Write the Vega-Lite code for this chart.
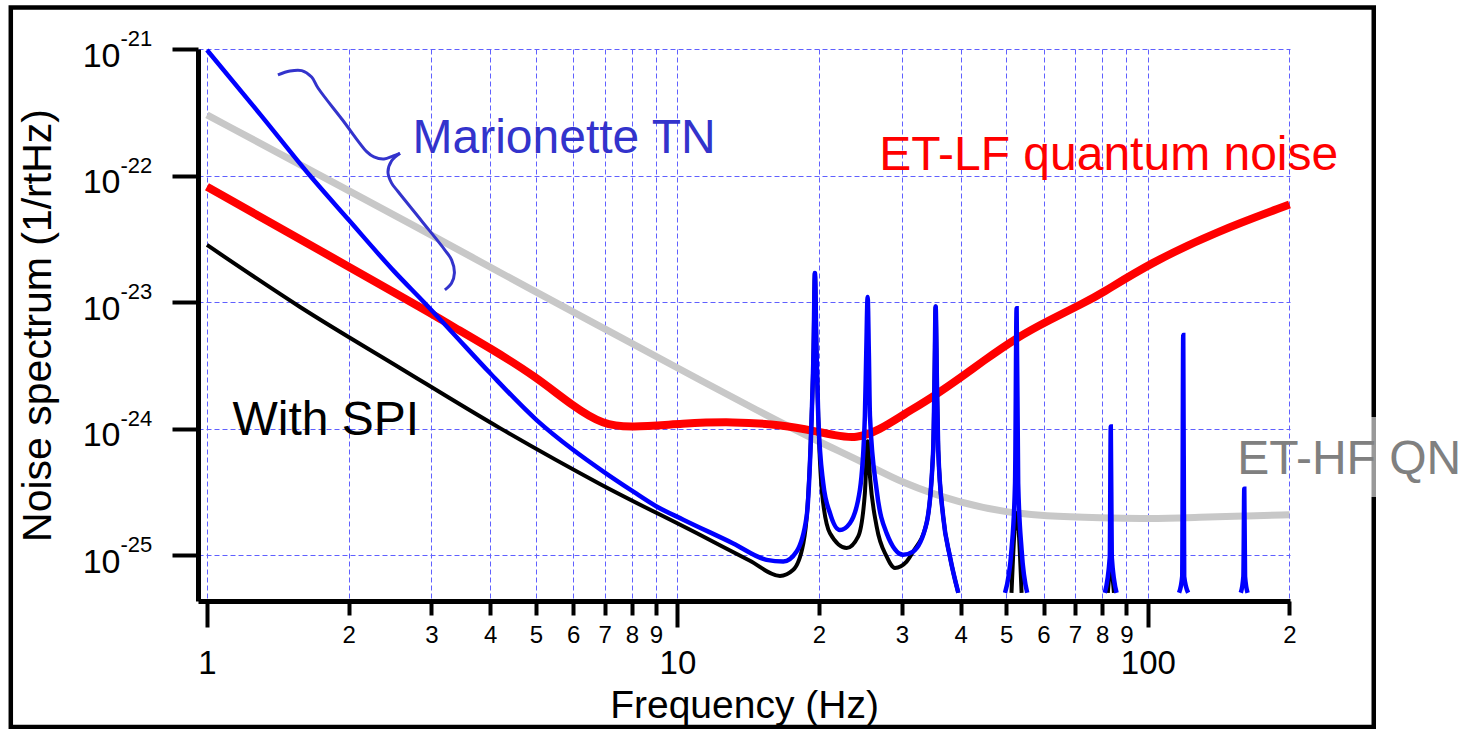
{
  "$schema": "https://vega.github.io/schema/vega-lite/v6.json",
  "width": 1092,
  "height": 552,
  "autosize": {"type": "none"},
  "padding": {"left": 198, "top": 49, "right": 180, "bottom": 128},
  "background": "white",
  "config": {"view": {"stroke": null}, "font": "Liberation Sans"},
  "datasets": {
    "curves": [
      {"series": "ET-HF QN", "seg": 0, "f": 1, "h": 3.02e-22},
      {"series": "ET-HF QN", "seg": 0, "f": 2, "h": 7.59e-23},
      {"series": "ET-HF QN", "seg": 0, "f": 3, "h": 3.39e-23},
      {"series": "ET-HF QN", "seg": 0, "f": 5, "h": 1.20e-23},
      {"series": "ET-HF QN", "seg": 0, "f": 7, "h": 6.17e-24},
      {"series": "ET-HF QN", "seg": 0, "f": 10, "h": 3.02e-24},
      {"series": "ET-HF QN", "seg": 0, "f": 15, "h": 1.35e-24},
      {"series": "ET-HF QN", "seg": 0, "f": 20, "h": 7.85e-25},
      {"series": "ET-HF QN", "seg": 0, "f": 25, "h": 5.37e-25},
      {"series": "ET-HF QN", "seg": 0, "f": 30, "h": 3.72e-25},
      {"series": "ET-HF QN", "seg": 0, "f": 40, "h": 2.57e-25},
      {"series": "ET-HF QN", "seg": 0, "f": 50, "h": 2.19e-25},
      {"series": "ET-HF QN", "seg": 0, "f": 60, "h": 2.04e-25},
      {"series": "ET-HF QN", "seg": 0, "f": 80, "h": 1.97e-25},
      {"series": "ET-HF QN", "seg": 0, "f": 100, "h": 1.94e-25},
      {"series": "ET-HF QN", "seg": 0, "f": 130, "h": 2.00e-25},
      {"series": "ET-HF QN", "seg": 0, "f": 160, "h": 2.04e-25},
      {"series": "ET-HF QN", "seg": 0, "f": 200, "h": 2.09e-25},

      {"series": "ET-LF quantum noise", "seg": 0, "f": 1, "h": 8.17e-23},
      {"series": "ET-LF quantum noise", "seg": 0, "f": 1.5, "h": 3.48e-23},
      {"series": "ET-LF quantum noise", "seg": 0, "f": 2, "h": 1.91e-23},
      {"series": "ET-LF quantum noise", "seg": 0, "f": 2.5, "h": 1.19e-23},
      {"series": "ET-LF quantum noise", "seg": 0, "f": 3, "h": 8.13e-24},
      {"series": "ET-LF quantum noise", "seg": 0, "f": 3.285, "h": 6.61e-24},
      {"series": "ET-LF quantum noise", "seg": 0, "f": 4, "h": 4.33e-24},
      {"series": "ET-LF quantum noise", "seg": 0, "f": 5, "h": 2.58e-24},
      {"series": "ET-LF quantum noise", "seg": 0, "f": 6, "h": 1.50e-24},
      {"series": "ET-LF quantum noise", "seg": 0, "f": 6.96, "h": 1.07e-24},
      {"series": "ET-LF quantum noise", "seg": 0, "f": 7.93, "h": 1.02e-24},
      {"series": "ET-LF quantum noise", "seg": 0, "f": 10.3, "h": 1.10e-24},
      {"series": "ET-LF quantum noise", "seg": 0, "f": 13.1, "h": 1.14e-24},
      {"series": "ET-LF quantum noise", "seg": 0, "f": 16.8, "h": 1.07e-24},
      {"series": "ET-LF quantum noise", "seg": 0, "f": 19.8, "h": 9.48e-25},
      {"series": "ET-LF quantum noise", "seg": 0, "f": 21.5, "h": 8.91e-25},
      {"series": "ET-LF quantum noise", "seg": 0, "f": 24.0, "h": 8.3e-25},
      {"series": "ET-LF quantum noise", "seg": 0, "f": 26.9, "h": 9.77e-25},
      {"series": "ET-LF quantum noise", "seg": 0, "f": 30.2, "h": 1.29e-24},
      {"series": "ET-LF quantum noise", "seg": 0, "f": 35, "h": 1.79e-24},
      {"series": "ET-LF quantum noise", "seg": 0, "f": 41.2, "h": 2.74e-24},
      {"series": "ET-LF quantum noise", "seg": 0, "f": 44, "h": 3.29e-24},
      {"series": "ET-LF quantum noise", "seg": 0, "f": 52.6, "h": 5.25e-24},
      {"series": "ET-LF quantum noise", "seg": 0, "f": 61.9, "h": 7.24e-24},
      {"series": "ET-LF quantum noise", "seg": 0, "f": 72.9, "h": 9.80e-24},
      {"series": "ET-LF quantum noise", "seg": 0, "f": 79.1, "h": 1.15e-23},
      {"series": "ET-LF quantum noise", "seg": 0, "f": 101, "h": 2.03e-23},
      {"series": "ET-LF quantum noise", "seg": 0, "f": 140, "h": 3.61e-23},
      {"series": "ET-LF quantum noise", "seg": 0, "f": 200, "h": 5.90e-23},

      {"series": "With SPI", "seg": 0, "f": 1, "h": 2.83e-23},
      {"series": "With SPI", "seg": 0, "f": 1.577, "h": 9.16e-24},
      {"series": "With SPI", "seg": 0, "f": 2.572, "h": 3.02e-24},
      {"series": "With SPI", "seg": 0, "f": 4.196, "h": 1.01e-24},
      {"series": "With SPI", "seg": 0, "f": 6.843, "h": 3.66e-25},
      {"series": "With SPI", "seg": 0, "f": 11.16, "h": 1.45e-25},
      {"series": "With SPI", "seg": 0, "f": 14.26, "h": 9.04e-26},
      {"series": "With SPI", "seg": 0, "f": 16.52, "h": 6.87e-26},
      {"series": "With SPI", "seg": 0, "f": 17.63, "h": 7.67e-26},
      {"series": "With SPI", "seg": 0, "f": 18.52, "h": 1.24e-25},
      {"series": "With SPI", "seg": 0, "f": 18.9, "h": 2.4e-25},
      {"series": "With SPI", "seg": 0, "f": 19.29, "h": 1.25e-24},
      {"series": "With SPI", "seg": 0, "f": 19.47, "h": 4.17e-24},
      {"series": "With SPI", "seg": 0, "f": 19.6, "h": 1.70e-23},
      {"series": "With SPI", "seg": 0, "f": 19.75, "h": 4.17e-24},
      {"series": "With SPI", "seg": 0, "f": 19.92, "h": 1.25e-24},
      {"series": "With SPI", "seg": 0, "f": 20.3, "h": 3.09e-25},
      {"series": "With SPI", "seg": 0, "f": 21.1, "h": 1.49e-25},
      {"series": "With SPI", "seg": 0, "f": 22.89, "h": 1.14e-25},
      {"series": "With SPI", "seg": 0, "f": 24.23, "h": 1.41e-25},
      {"series": "With SPI", "seg": 0, "f": 25.03, "h": 3.09e-25},
      {"series": "With SPI", "seg": 0, "f": 25.37, "h": 7.94e-25},
      {"series": "With SPI", "seg": 0, "f": 25.66, "h": 4.19e-25},
      {"series": "With SPI", "seg": 0, "f": 26.51, "h": 1.69e-25},
      {"series": "With SPI", "seg": 0, "f": 27.85, "h": 9.77e-26},
      {"series": "With SPI", "seg": 0, "f": 29.0, "h": 7.94e-26},
      {"series": "With SPI", "seg": 0, "f": 30.7, "h": 8.91e-26},
      {"series": "With SPI", "seg": 0, "f": 31.7, "h": 1.07e-25},
      {"series": "With SPI", "seg": 0, "f": 33.85, "h": 1.79e-25},
      {"series": "With SPI", "seg": 0, "f": 34.97, "h": 6.81e-25},
      {"series": "With SPI", "seg": 0, "f": 35.2, "h": 2.51e-24},
      {"series": "With SPI", "seg": 0, "f": 35.39, "h": 9.23e-24},
      {"series": "With SPI", "seg": 0, "f": 35.6, "h": 2.51e-24},
      {"series": "With SPI", "seg": 0, "f": 35.84, "h": 6.81e-25},
      {"series": "With SPI", "seg": 0, "f": 36.72, "h": 2.02e-25},
      {"series": "With SPI", "seg": 0, "f": 37.95, "h": 9.77e-26},
      {"series": "With SPI", "seg": 0, "f": 39.54, "h": 5.05e-26},
      {"series": "With SPI", "seg": 1, "f": 51.3, "h": 5.05e-26},
      {"series": "With SPI", "seg": 1, "f": 52.6, "h": 2.16e-25},
      {"series": "With SPI", "seg": 1, "f": 53.9, "h": 5.05e-26},
      {"series": "With SPI", "seg": 2, "f": 82.2, "h": 5.05e-26},
      {"series": "With SPI", "seg": 2, "f": 83.4, "h": 7.94e-26},
      {"series": "With SPI", "seg": 2, "f": 84.7, "h": 5.05e-26},

      {"series": "Marionette TN", "seg": 0, "f": 1, "h": 9.82e-22},
      {"series": "Marionette TN", "seg": 0, "f": 1.3, "h": 3.02e-22},
      {"series": "Marionette TN", "seg": 0, "f": 1.655, "h": 1.00e-22},
      {"series": "Marionette TN", "seg": 0, "f": 2, "h": 4.47e-23},
      {"series": "Marionette TN", "seg": 0, "f": 2.5, "h": 1.75e-23},
      {"series": "Marionette TN", "seg": 0, "f": 2.906, "h": 9.80e-24},
      {"series": "Marionette TN", "seg": 0, "f": 3.285, "h": 6.03e-24},
      {"series": "Marionette TN", "seg": 0, "f": 4, "h": 2.74e-24},
      {"series": "Marionette TN", "seg": 0, "f": 5.02, "h": 1.17e-24},
      {"series": "Marionette TN", "seg": 0, "f": 6, "h": 6.81e-25},
      {"series": "Marionette TN", "seg": 0, "f": 6.96, "h": 4.58e-25},
      {"series": "Marionette TN", "seg": 0, "f": 8.06, "h": 3.18e-25},
      {"series": "Marionette TN", "seg": 0, "f": 9.03, "h": 2.43e-25},
      {"series": "Marionette TN", "seg": 0, "f": 10.29, "h": 1.91e-25},
      {"series": "Marionette TN", "seg": 0, "f": 13.14, "h": 1.24e-25},
      {"series": "Marionette TN", "seg": 0, "f": 15.47, "h": 9.20e-26},
      {"series": "Marionette TN", "seg": 0, "f": 16.79, "h": 8.91e-26},
      {"series": "Marionette TN", "seg": 0, "f": 17.92, "h": 1.07e-25},
      {"series": "Marionette TN", "seg": 0, "f": 18.82, "h": 2.02e-25},
      {"series": "Marionette TN", "seg": 0, "f": 19.29, "h": 1.25e-24},
      {"series": "Marionette TN", "seg": 0, "f": 19.47, "h": 4.17e-24},
      {"series": "Marionette TN", "seg": 0, "f": 19.6, "h": 1.70e-23},
      {"series": "Marionette TN", "seg": 0, "f": 19.75, "h": 4.17e-24},
      {"series": "Marionette TN", "seg": 0, "f": 19.92, "h": 1.25e-24},
      {"series": "Marionette TN", "seg": 0, "f": 20.41, "h": 3.72e-25},
      {"series": "Marionette TN", "seg": 0, "f": 21.1, "h": 2.15e-25},
      {"series": "Marionette TN", "seg": 0, "f": 22.15, "h": 1.58e-25},
      {"series": "Marionette TN", "seg": 0, "f": 23.26, "h": 1.79e-25},
      {"series": "Marionette TN", "seg": 0, "f": 24.43, "h": 3.29e-25},
      {"series": "Marionette TN", "seg": 0, "f": 25.03, "h": 1.25e-24},
      {"series": "Marionette TN", "seg": 0, "f": 25.2, "h": 3.98e-24},
      {"series": "Marionette TN", "seg": 0, "f": 25.37, "h": 1.10e-23},
      {"series": "Marionette TN", "seg": 0, "f": 25.52, "h": 3.98e-24},
      {"series": "Marionette TN", "seg": 0, "f": 25.66, "h": 1.25e-24},
      {"series": "Marionette TN", "seg": 0, "f": 26.51, "h": 3.29e-25},
      {"series": "Marionette TN", "seg": 0, "f": 27.85, "h": 1.49e-25},
      {"series": "Marionette TN", "seg": 0, "f": 30.2, "h": 1.01e-25},
      {"series": "Marionette TN", "seg": 0, "f": 31.7, "h": 1.07e-25},
      {"series": "Marionette TN", "seg": 0, "f": 33.85, "h": 1.79e-25},
      {"series": "Marionette TN", "seg": 0, "f": 34.97, "h": 6.81e-25},
      {"series": "Marionette TN", "seg": 0, "f": 35.2, "h": 2.51e-24},
      {"series": "Marionette TN", "seg": 0, "f": 35.39, "h": 9.23e-24},
      {"series": "Marionette TN", "seg": 0, "f": 35.6, "h": 2.51e-24},
      {"series": "Marionette TN", "seg": 0, "f": 35.84, "h": 6.81e-25},
      {"series": "Marionette TN", "seg": 0, "f": 36.72, "h": 2.02e-25},
      {"series": "Marionette TN", "seg": 0, "f": 37.95, "h": 9.77e-26},
      {"series": "Marionette TN", "seg": 0, "f": 39.54, "h": 5.05e-26},
      {"series": "Marionette TN", "seg": 1, "f": 49.7, "h": 5.05e-26},
      {"series": "Marionette TN", "seg": 1, "f": 51.3, "h": 1.10e-25},
      {"series": "Marionette TN", "seg": 1, "f": 52.2, "h": 3.72e-25},
      {"series": "Marionette TN", "seg": 1, "f": 52.6, "h": 8.95e-24},
      {"series": "Marionette TN", "seg": 1, "f": 53.0, "h": 3.72e-25},
      {"series": "Marionette TN", "seg": 1, "f": 53.9, "h": 1.10e-25},
      {"series": "Marionette TN", "seg": 1, "f": 55.4, "h": 5.05e-26},
      {"series": "Marionette TN", "seg": 2, "f": 81.0, "h": 5.05e-26},
      {"series": "Marionette TN", "seg": 2, "f": 83.0, "h": 9.7e-26},
      {"series": "Marionette TN", "seg": 2, "f": 83.4, "h": 1.04e-24},
      {"series": "Marionette TN", "seg": 2, "f": 83.8, "h": 9.7e-26},
      {"series": "Marionette TN", "seg": 2, "f": 85.8, "h": 5.05e-26},
      {"series": "Marionette TN", "seg": 3, "f": 116.5, "h": 5.05e-26},
      {"series": "Marionette TN", "seg": 3, "f": 118.3, "h": 6.8e-26},
      {"series": "Marionette TN", "seg": 3, "f": 118.9, "h": 5.51e-24},
      {"series": "Marionette TN", "seg": 3, "f": 119.45, "h": 6.8e-26},
      {"series": "Marionette TN", "seg": 3, "f": 121.8, "h": 5.05e-26},
      {"series": "Marionette TN", "seg": 4, "f": 157.6, "h": 5.05e-26},
      {"series": "Marionette TN", "seg": 4, "f": 159.6, "h": 6.8e-26},
      {"series": "Marionette TN", "seg": 4, "f": 160.3, "h": 3.35e-25},
      {"series": "Marionette TN", "seg": 4, "f": 160.9, "h": 6.8e-26},
      {"series": "Marionette TN", "seg": 4, "f": 162.9, "h": 5.05e-26}
    ],
    "brace": [
      {"seg": 0, "i": 1, "f": 1.415, "h": 6.24e-22},
      {"seg": 0, "i": 2, "f": 1.501, "h": 6.70e-22},
      {"seg": 0, "i": 3, "f": 1.590, "h": 6.75e-22},
      {"seg": 0, "i": 4, "f": 1.669, "h": 6.01e-22},
      {"seg": 0, "i": 5, "f": 1.722, "h": 4.92e-22},
      {"seg": 0, "i": 6, "f": 1.940, "h": 2.76e-22},
      {"seg": 0, "i": 7, "f": 2.185, "h": 1.545e-22},
      {"seg": 0, "i": 8, "f": 2.264, "h": 1.403e-22},
      {"seg": 0, "i": 9, "f": 2.378, "h": 1.352e-22},
      {"seg": 0, "i": 10, "f": 2.489, "h": 1.429e-22},
      {"seg": 0, "i": 11, "f": 2.572, "h": 1.500e-22},
      {"seg": 1, "i": 11, "f": 2.572, "h": 1.500e-22},
      {"seg": 1, "i": 12, "f": 2.467, "h": 1.303e-22},
      {"seg": 1, "i": 13, "f": 2.425, "h": 1.067e-22},
      {"seg": 1, "i": 14, "f": 2.467, "h": 8.75e-23},
      {"seg": 1, "i": 15, "f": 2.547, "h": 7.48e-23},
      {"seg": 1, "i": 16, "f": 2.857, "h": 4.40e-23},
      {"seg": 1, "i": 17, "f": 3.204, "h": 2.58e-23},
      {"seg": 1, "i": 18, "f": 3.312, "h": 2.15e-23},
      {"seg": 1, "i": 19, "f": 3.357, "h": 1.70e-23},
      {"seg": 1, "i": 20, "f": 3.309, "h": 1.41e-23},
      {"seg": 1, "i": 21, "f": 3.204, "h": 1.25e-23}
    ],
    "labels": [
      {"series": "Marionette TN", "text": "Marionette TN", "f": 2.734, "h": 1.507e-22},
      {"series": "ET-LF quantum noise", "text": "ET-LF quantum noise", "f": 26.86, "h": 1.106e-22},
      {"series": "With SPI", "text": "With SPI", "f": 1.133, "h": 8.914e-25},
      {"series": "ET-HF QN", "text": "ET-HF QN", "f": 154.9, "h": 4.384e-25}
    ],
    "decades": [
      {"h": 1e-21, "exp": "-21"},
      {"h": 1e-22, "exp": "-22"},
      {"h": 1e-23, "exp": "-23"},
      {"h": 1e-24, "exp": "-24"},
      {"h": 1e-25, "exp": "-25"}
    ]
  },
  "layer": [
    {
      "data": {"values": [{}]},
      "mark": {"type": "rect", "filled": false, "stroke": "black", "strokeWidth": 4.5, "clip": false},
      "encoding": {
        "x": {"datum": 0.3828, "type": "quantitative"},
        "x2": {"datum": 302.1},
        "y": {"datum": 2.128e-21, "type": "quantitative"},
        "y2": {"datum": 4.393e-27}
      }
    },
    {
      "data": {"values": [{}]},
      "mark": {"type": "rect", "fill": "white", "opacity": 0.6, "clip": false},
      "encoding": {
        "x": {"datum": 295.1, "type": "quantitative"},
        "x2": {"datum": 309.9},
        "y": {"datum": 1.237e-24, "type": "quantitative"},
        "y2": {"datum": 2.885e-25}
      }
    },
    {
      "data": {"name": "curves"},
      "transform": [{"filter": "datum.series === 'ET-HF QN'"}],
      "mark": {"type": "line", "color": "#c8c8c8", "strokeWidth": 7, "interpolate": "basis"},
      "encoding": {
        "x": {
          "field": "f", "type": "quantitative",
          "scale": {"type": "log", "domain": [0.957, 200.5], "nice": false},
          "axis": {
            "values": [1, 2, 3, 4, 5, 6, 7, 8, 9, 10, 20, 30, 40, 50, 60, 70, 80, 90, 100, 200],
            "labelExpr": "indexof([1,10,100], datum.value) >= 0 ? toString(datum.value) : substring(toString(datum.value), 0, 1)",
            "labelFontSize": {"condition": {"test": "indexof([1,10,100], datum.value) >= 0", "value": 33}, "value": 24},
            "labelPadding": {"condition": {"test": "indexof([1,10,100], datum.value) >= 0", "value": 20.6}, "value": 8.2},
            "tickSize": {"condition": {"test": "indexof([1,10,100], datum.value) >= 0", "value": 26}, "value": 14},
            "tickWidth": 4, "tickColor": "black",
            "domainColor": "black", "domainWidth": 5,
            "labelColor": "black", "labelFont": "Liberation Sans",
            "labelFlush": false, "labelOverlap": false, "labelBound": false,
            "grid": true, "gridColor": "#6060ff", "gridDash": [5, 3], "gridWidth": 1,
            "title": "Frequency (Hz)", "titleFont": "Liberation Sans", "titleFontSize": 39,
            "titleFontWeight": "normal", "titleColor": "black", "titlePadding": 6
          }
        },
        "y": {
          "field": "h", "type": "quantitative",
          "scale": {"type": "log", "domain": [4.35e-26, 1e-21], "nice": false},
          "axis": {
            "values": [1e-25, 1e-24, 1e-23, 1e-22, 1e-21],
            "labelExpr": "'10'",
            "labelFontSize": 34, "labelPadding": 52, "labelOffset": 7,
            "labelColor": "black", "labelFont": "Liberation Sans",
            "labelFlush": false, "labelOverlap": false, "labelBound": false,
            "tickSize": 26, "tickWidth": 4, "tickColor": "black",
            "domainColor": "black", "domainWidth": 5,
            "grid": true, "gridColor": "#6060ff", "gridDash": [5, 3], "gridWidth": 1,
            "title": "Noise spectrum (1/rtHz)", "titleFont": "Liberation Sans", "titleFontSize": 41,
            "titleFontWeight": "normal", "titleColor": "black", "titlePadding": 23
          }
        },
        "detail": {"field": "seg"}
      }
    },
    {
      "data": {"name": "curves"},
      "transform": [{"filter": "datum.series === 'ET-LF quantum noise'"}],
      "mark": {"type": "line", "color": "#ff0000", "strokeWidth": 8, "interpolate": "basis"},
      "encoding": {
        "x": {"field": "f", "type": "quantitative"},
        "y": {"field": "h", "type": "quantitative"},
        "detail": {"field": "seg"}
      }
    },
    {
      "data": {"name": "curves"},
      "transform": [{"filter": "datum.series === 'With SPI'"}],
      "mark": {"type": "line", "color": "#000000", "strokeWidth": 4, "interpolate": "monotone"},
      "encoding": {
        "x": {"field": "f", "type": "quantitative"},
        "y": {"field": "h", "type": "quantitative"},
        "detail": {"field": "seg"}
      }
    },
    {
      "data": {"name": "curves"},
      "transform": [{"filter": "datum.series === 'Marionette TN'"}],
      "mark": {"type": "line", "color": "#0000ff", "strokeWidth": 4.5, "interpolate": "monotone"},
      "encoding": {
        "x": {"field": "f", "type": "quantitative"},
        "y": {"field": "h", "type": "quantitative"},
        "detail": {"field": "seg"}
      }
    },
    {
      "data": {"name": "brace"},
      "mark": {"type": "line", "color": "#3333cc", "strokeWidth": 3, "interpolate": "catmull-rom"},
      "encoding": {
        "x": {"field": "f", "type": "quantitative"},
        "y": {"field": "h", "type": "quantitative"},
        "detail": {"field": "seg"},
        "order": {"field": "i", "type": "quantitative"}
      }
    },
    {
      "data": {"name": "labels"},
      "mark": {"type": "text", "align": "left", "baseline": "alphabetic", "fontSize": 48, "font": "Liberation Sans", "clip": false},
      "encoding": {
        "x": {"field": "f", "type": "quantitative"},
        "y": {"field": "h", "type": "quantitative"},
        "text": {"field": "text"},
        "color": {
          "field": "series", "type": "nominal", "legend": null,
          "scale": {"domain": ["Marionette TN", "ET-LF quantum noise", "With SPI", "ET-HF QN"], "range": ["#3333cc", "#ff0000", "#000000", "#808080"]}
        }
      }
    },
    {
      "data": {"name": "decades"},
      "mark": {"type": "text", "align": "left", "baseline": "alphabetic", "fontSize": 22, "font": "Liberation Sans", "color": "black", "dy": -3, "clip": false},
      "encoding": {
        "x": {"datum": 0.6548, "type": "quantitative"},
        "y": {"field": "h", "type": "quantitative"},
        "text": {"field": "exp"}
      }
    }
  ]
}
